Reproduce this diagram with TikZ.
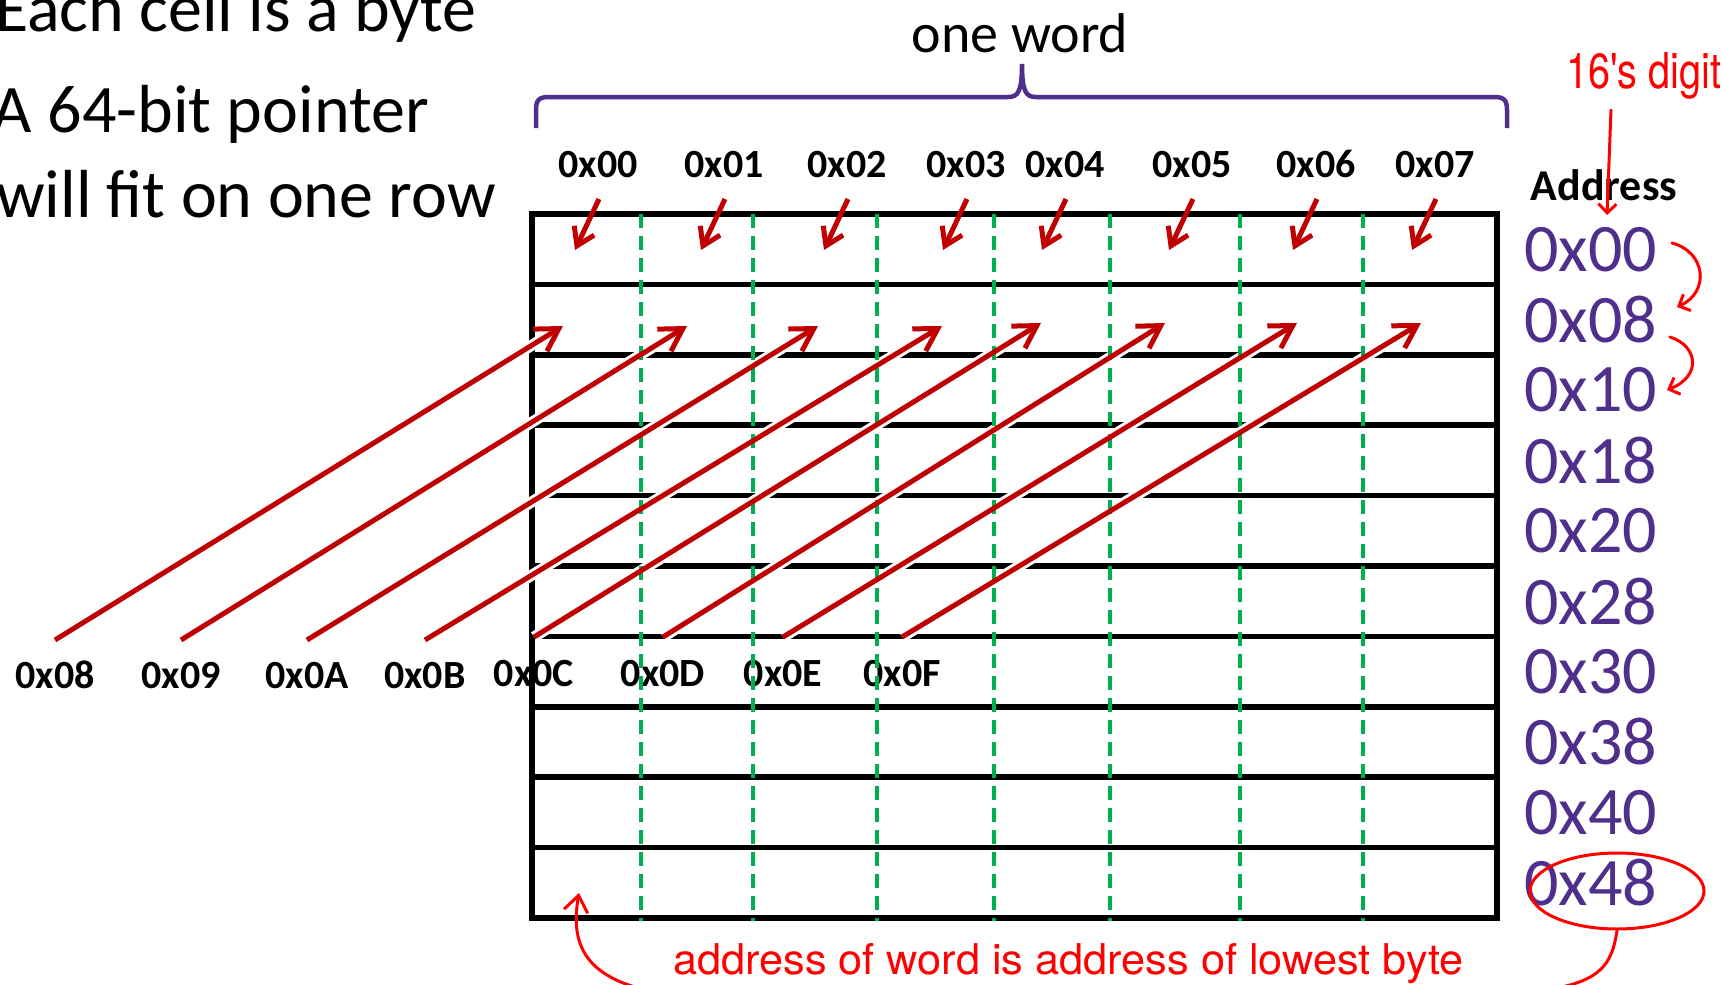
\documentclass[tikz,border=0pt]{standalone}
\usepackage{graphicx}
\usepackage{fontspec}
\setmainfont{Carlito}
\newfontfamily\handfont{TeX Gyre Heros}
\usetikzlibrary{arrows.meta,shapes.geometric}

\definecolor{wordpurple}{RGB}{80,46,140}
\definecolor{arrowred}{RGB}{192,0,0}
\definecolor{handred}{RGB}{255,0,0}
\definecolor{bytegreen}{RGB}{0,176,80}

\begin{document}
\begin{tikzpicture}[x=1pt,y=-1pt,
  gridline/.style={line width=5.5pt},
  byteline/.style={draw=bytegreen,line width=4.5pt,dash pattern=on 14pt off 8pt},
  pointer/.style={draw=arrowred,line width=5pt,-{Straight Barb[length=22pt,width=26pt]}},
  shortpointer/.style={draw=arrowred,line width=5pt,-{Straight Barb[length=17pt,width=22pt]}},
  halo/.style={draw=white,line width=11pt},
  bigtext/.style={inner sep=0pt,font=\fontsize{68pt}{80pt}\selectfont},
  collabel/.style={inner sep=0pt,anchor=base,font=\fontsize{40pt}{48pt}\selectfont\bfseries},
  addr/.style={inner sep=0pt,anchor=west,text=wordpurple,font=\fontsize{68pt}{80pt}\selectfont},
  handline/.style={draw=handred,line width=3pt,line cap=round},
  handarrow/.style={handline,-{Straight Barb[length=9pt,width=18pt]}},
  bighandarrow/.style={handline,-{Straight Barb[length=16pt,width=24pt]}},
]
% page
\useasboundingbox (0,0) rectangle (1722,985);
\fill[white] (0,0) rectangle (1722,985);

% bullet text on the left
\node[bigtext,anchor=base east] (line1) at (477,31) {Each cell is a byte};
\node[bigtext,anchor=base east] (line2) at (429,132) {A 64-bit pointer};
\node[bigtext,anchor=base east] (line3) at (496,217) {will fit on one row};

% brace spanning one word
\draw[wordpurple,line width=4.5pt]
  (536,128) -- (536,110) .. controls (536,100) and (539,97) .. (549,97)
  -- (1008,97) .. controls (1018,97) and (1022,92) .. (1022,64)
  .. controls (1022,92) and (1026,97) .. (1036,97)
  -- (1494,97) .. controls (1504,97) and (1507,100) .. (1507,110) -- (1507,128);
\node[inner sep=0pt,anchor=base,font=\fontsize{56pt}{66pt}\selectfont] (wordlabel) at (1020,52) {one word};

% memory grid: ten rows of eight bytes
\draw[gridline] (532,214) rectangle (1497,918);
\foreach \k in {1,...,9}
  \draw[gridline] (532,{214+70.4*\k}) -- (1497,{214+70.4*\k});

% byte offsets along the first row
\foreach \lab/\x [count=\i] in {0x00/598,0x01/724,0x02/847,0x03/966,0x04/1065,0x05/1192,0x06/1316,0x07/1435}{
  \node[collabel] (c\i) at (\x,177) {\lab};
  \coordinate (cs\i) at (\x+1,199);
  \coordinate (ce\i) at (\x-23,250);
}

% addresses of the second row's bytes and where they land
\foreach \lab/\x/\y/\ty/\hx/\hy [count=\i] in {
  0x08/55/688/640/563/326, 0x09/181/688/640/687/326,
  0x0A/307/688/640/818/326, 0x0B/425/688/640/942/326,
  0x0C/534/686/637/1041/323, 0x0D/663/686/637/1165/323,
  0x0E/783/686/637/1297/323, 0x0F/902/686/637/1421/323}{
  \node[collabel] (b\i) at (\x,\y) {\lab};
  \coordinate (bs\i) at (\x,\ty);
  \coordinate (be\i) at (\hx,\hy);
}

% white halos where the long pointers cross the row lines
\foreach \i in {1,...,8}
  \draw[halo] (bs\i) -- (be\i);

% byte boundaries
\foreach \x in {641,753,877,994,1110,1240,1363}
  \draw[byteline] (\x,214) -- (\x,921);

% pointers
\foreach \i in {1,...,8}{
  \draw[shortpointer] (cs\i) -- (ce\i);
  \draw[pointer] (bs\i) -- (be\i);
}

% row addresses
\node[inner sep=0pt,anchor=base,font=\fontsize{44pt}{52pt}\selectfont\bfseries] (addrhead) at (1604,200) {Address};
\foreach \lab [count=\i from 0] in {0x00,0x08,0x10,0x18,0x20,0x28,0x30,0x38,0x40,0x48}
  \node[addr] (a\i) at (1524,{214+70.4*(\i+0.5)}) {\lab};

% handwritten notes
\node[inner sep=0pt,anchor=base west,text=handred] (digitnote) at (1566,88)
  {\resizebox{155pt}{36pt}{\handfont 16's digit}};
\coordinate (digitfrom) at (1611,110);
\coordinate (digitto) at (1607,215);
\draw[handarrow] (digitfrom) -- (digitto);

\coordinate (stepA1) at (1672,243);
\coordinate (stepA2) at (1677,307);
\draw[handarrow] (stepA1) .. controls (1706,252) and (1710,292) .. (stepA2);
\coordinate (stepB1) at (1670,337);
\coordinate (stepB2) at (1667,390);
\draw[handarrow] (stepB1) .. controls (1698,346) and (1702,376) .. (stepB2);

\node[draw=handred,line width=3pt,ellipse,inner sep=0pt,minimum width=174pt,minimum height=76pt] (ring) at (1617,891) {};
\coordinate (ringtail) at (1545,990);
\draw[handline] (ring.south) .. controls (1612,965) and (1600,982) .. (ringtail);

\node[inner sep=0pt,anchor=base west,text=handred] (lownote) at (673,974)
  {\resizebox{790pt}{31pt}{\handfont address of word is address of lowest byte}};
\coordinate (notestart) at (655,992);
\coordinate (wordtip) at (579,893);
\draw[bighandarrow] (notestart) .. controls (585,978) and (570,945) .. (wordtip);
\end{tikzpicture}
\end{document}
